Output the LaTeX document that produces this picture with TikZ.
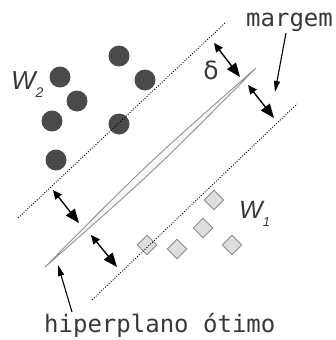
\documentclass[tikz,border=0pt]{standalone}
\usepackage{fontspec}
\setmainfont{Liberation Sans}
\setsansfont{Liberation Sans}
\setmonofont{DejaVu Sans Mono}
\newfontfamily\dejavu{DejaVu Sans}
\usetikzlibrary{arrows.meta,calc,shapes.geometric}
\definecolor{dotc}{HTML}{4A4A4A}
\definecolor{diaf}{HTML}{DEDEDE}
\definecolor{diad}{HTML}{8E8E8E}
\definecolor{txtc}{HTML}{383838}
\tikzset{
  classdot/.style={circle,fill=dotc,draw=none,minimum size=21pt,inner sep=0pt},
  classdia/.style={diamond,fill=diaf,draw=diad,line width=0.9pt,minimum size=20pt,inner sep=0pt},
  dotline/.style={line width=0.9pt,dash pattern=on 1pt off 1.6pt},
  dblarrow/.style={line width=1.4pt,{Triangle[length=9pt,width=8pt]}-{Triangle[length=14pt,width=11pt]}},
  ptrarrow/.style={line width=1.1pt,-{Triangle[length=11pt,width=6pt]}},
  monolabel/.style={font=\ttfamily\fontsize{24}{24}\selectfont,inner sep=0pt,text=txtc},
  wlabel/.style={inner sep=0pt,anchor=base west,text=txtc},
}
\begin{document}
\begin{tikzpicture}[x=1pt,y=-1pt]
\useasboundingbox (0,0) rectangle (335,340);
% class W2 (circles)
\node[classdot] (c1) at (119,56) {};
\node[classdot] (c2) at (60,77) {};
\node[classdot] (c3) at (145,80) {};
\node[classdot] (c4) at (77,101) {};
\node[classdot] (c5) at (52,121) {};
\node[classdot] (c6) at (119,124) {};
\node[classdot] (c7) at (56,160) {};
% class W1 (diamonds)
\node[classdia] (d1) at (214,200) {};
\node[classdia] (d2) at (203,228) {};
\node[classdia] (d3) at (147,245) {};
\node[classdia] (d4) at (177,249) {};
\node[classdia] (d5) at (232,245) {};
% margin lines
\coordinate (m1a) at (18,218);
\coordinate (m1b) at (225,23);
\coordinate (m2a) at (92,300);
\coordinate (m2b) at (297,104);
\draw[dotline] (m1a) -- (m1b);
\draw[dotline] (m2a) -- (m2b);
% hyperplane (spindle)
\coordinate (hA) at (45,267);
\coordinate (hB) at (256,68);
\draw[draw=gray!85,fill=gray!6,line width=0.9pt]
  (hA) .. controls ($(hA)!0.5!(hB)+(3.4,3.6)$) .. (hB)
       .. controls ($(hA)!0.5!(hB)+(-3.4,-3.6)$) .. (hA) -- cycle;
% double arrows
\coordinate (a1s) at (214,43);  \coordinate (a1e) at (240,77);
\coordinate (a2s) at (248,85);  \coordinate (a2e) at (274,118);
\coordinate (a3s) at (53,190);  \coordinate (a3e) at (79,223);
\coordinate (a4s) at (91,235);  \coordinate (a4e) at (117,267);
\draw[dblarrow] (a1s) -- (a1e);
\draw[dblarrow] (a2s) -- (a2e);
\draw[dblarrow] (a3s) -- (a3e);
\draw[dblarrow] (a4s) -- (a4e);
% labels
\node[inner sep=0pt,text=txtc,font=\dejavu\fontsize{25}{25}\selectfont] (delta) at (211,70) {δ};
\node[wlabel] (w2) at (11,89)
  {\fontsize{26}{26}\selectfont\itshape W\kern0pt\raisebox{-8pt}{\fontsize{14}{14}\selectfont 2}};
\node[wlabel] (w1) at (239,218)
  {\fontsize{25}{25}\selectfont\itshape W\kern0pt\raisebox{-8pt}{\fontsize{13}{13}\selectfont 1}};
\node[monolabel,anchor=base west] (margem) at (246,27) {margem};
\node[monolabel,anchor=base west] (hiper) at (44,332) {hiperplano ótimo};
\coordinate (mtip) at (275,92);
\coordinate (htip) at (58,265);
\coordinate (mstart) at (286,33);
\coordinate (hstart) at (72,312);
\draw[ptrarrow] (mstart) -- (mtip);
\draw[ptrarrow] (hstart) -- (htip);
\end{tikzpicture}
\end{document}
